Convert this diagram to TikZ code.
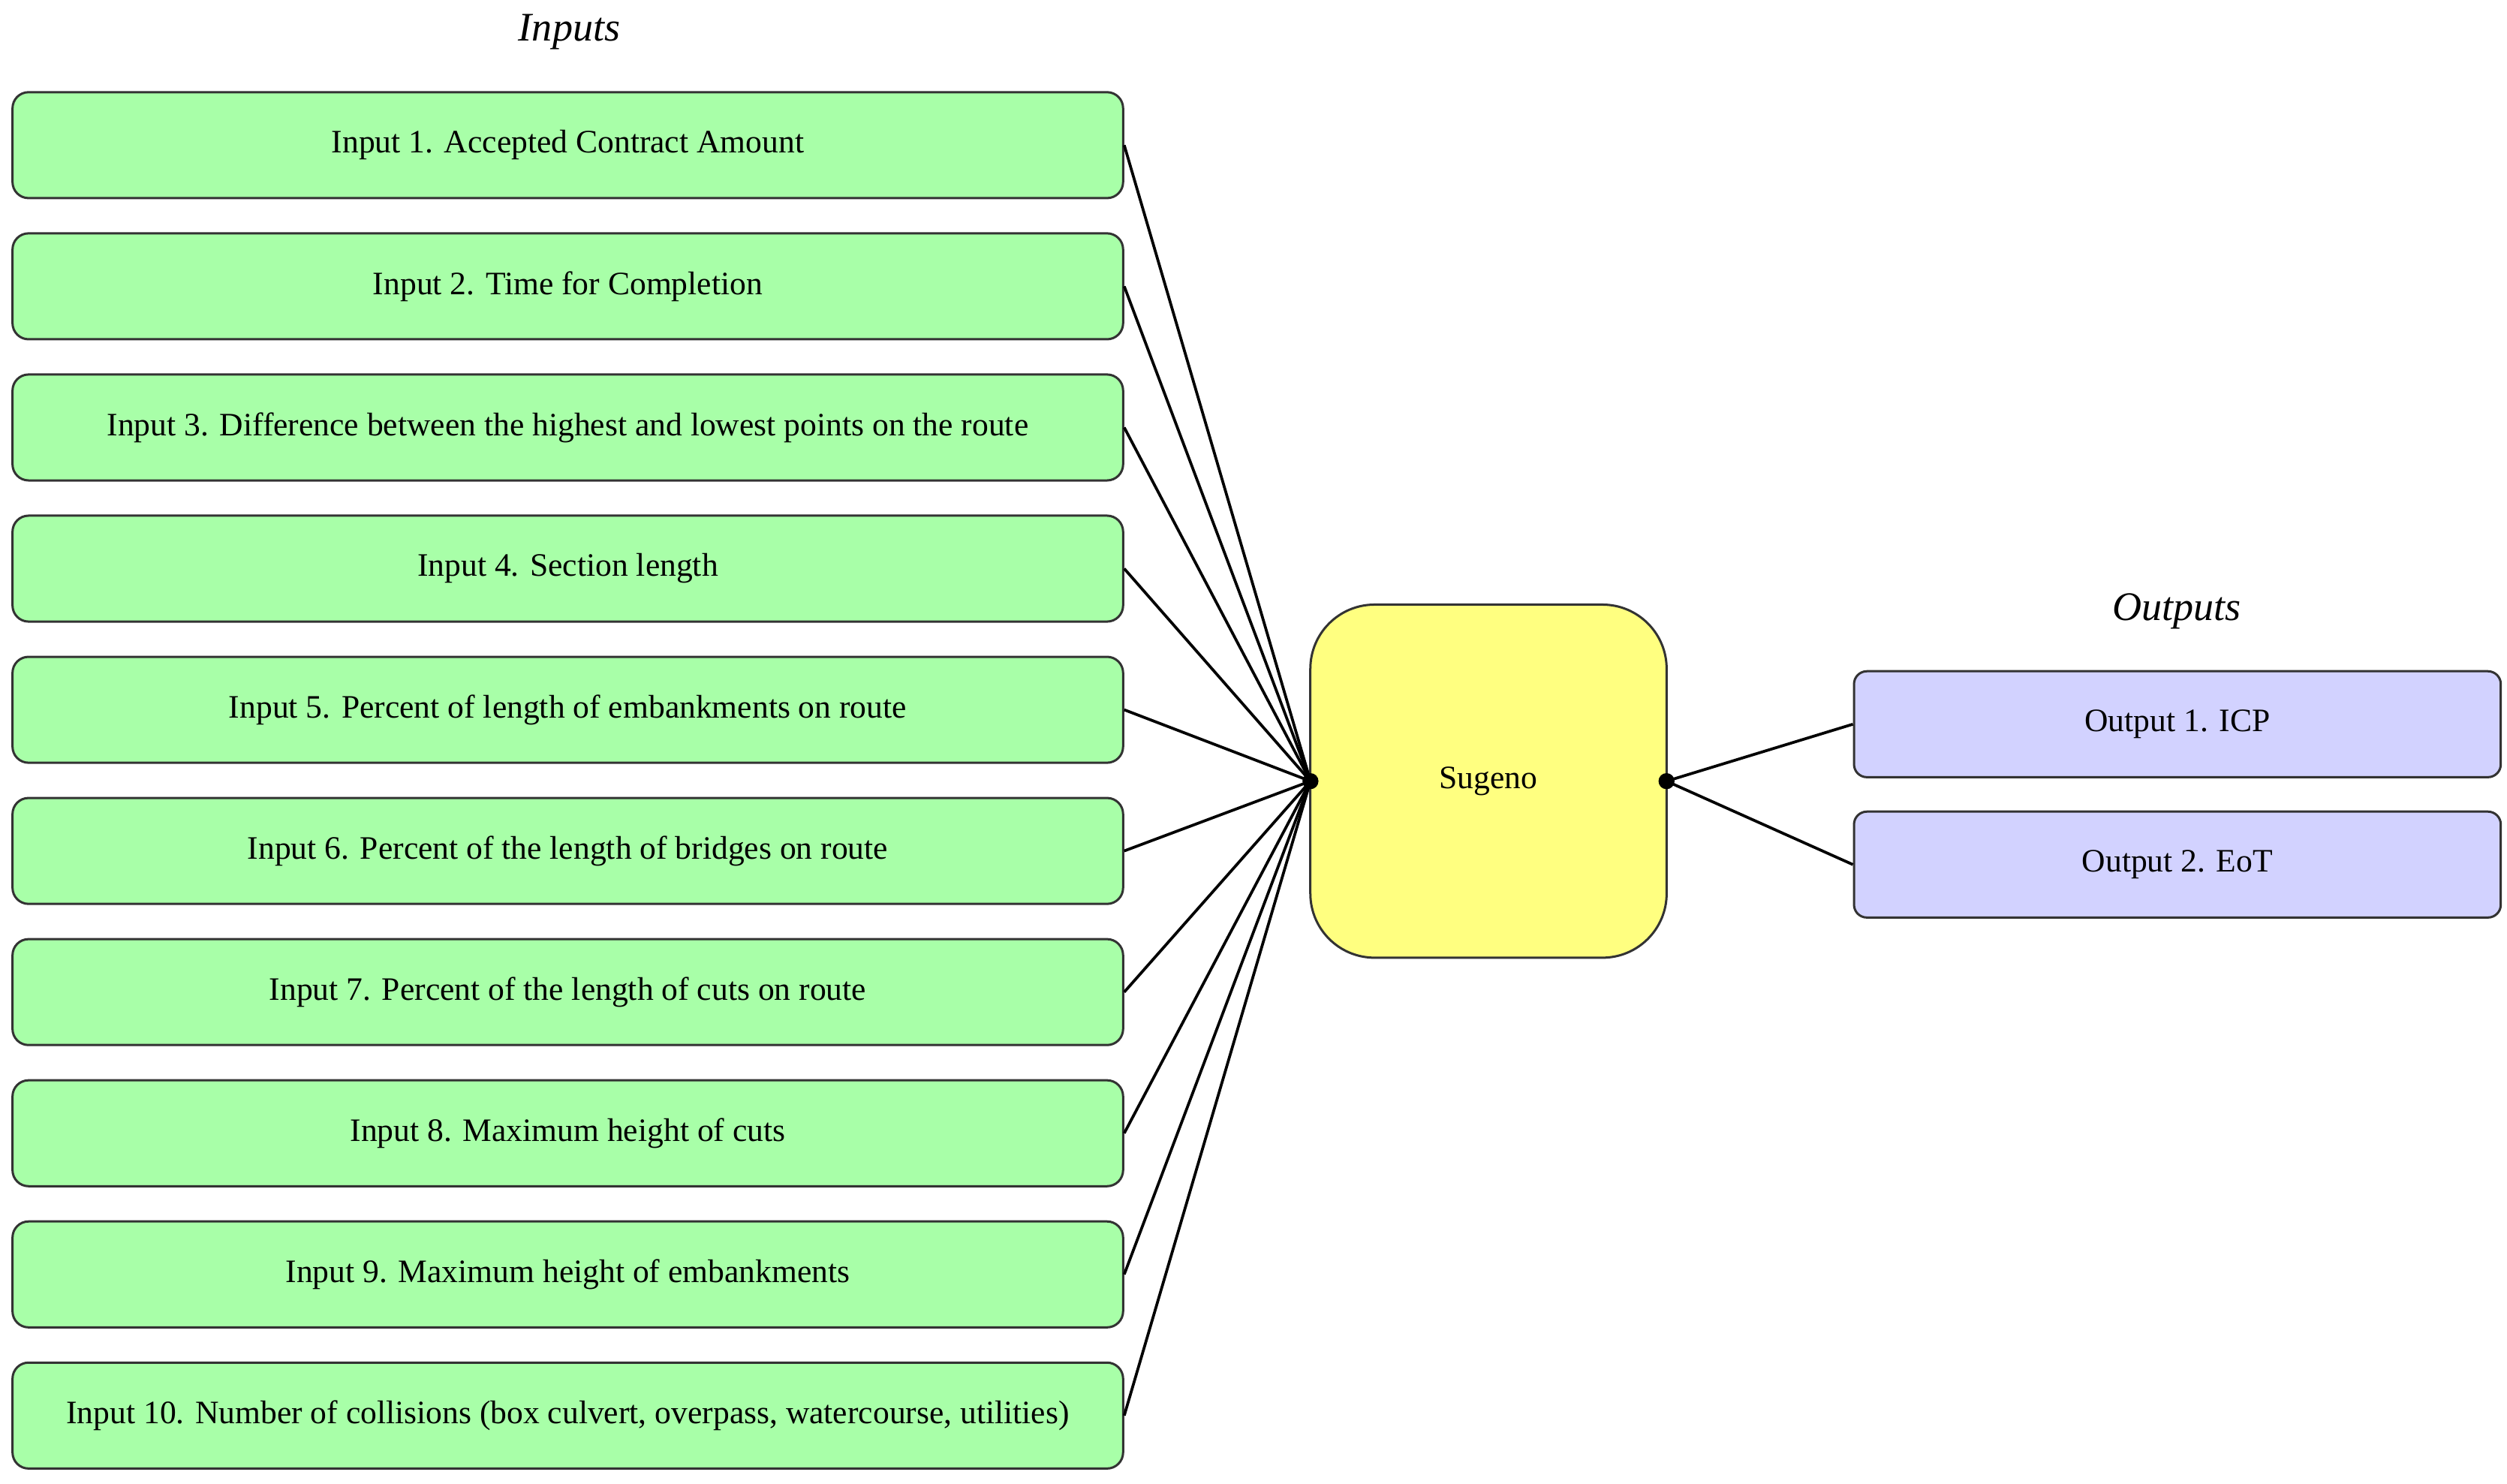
\documentclass[tikz,border=0pt]{standalone}
\usepackage{fontspec}
\setmainfont{Liberation Serif}
\begin{document}
\begin{tikzpicture}[x=0.01cm,y=-0.01cm,
  inbox/.style={draw=black!80,line width=0.4pt,fill=green!35!white!90!green,rounded corners=0.1cm,minimum width=6.92cm,minimum height=0.66cm,font=\fontsize{5.8}{7}\selectfont,inner sep=0pt},
  outbox/.style={draw=black!80,line width=0.4pt,fill={rgb,255:red,210;green,210;blue,255},rounded corners=0.08cm,minimum width=4.03cm,minimum height=0.66cm,font=\fontsize{5.8}{7}\selectfont,inner sep=0pt},
  conn/.style={line width=0.5pt},
  hdr/.style={font=\fontsize{7.2}{8}\selectfont\itshape}]
\useasboundingbox (0,0) rectangle (1563,925);
\definecolor{ingreen}{RGB}{168,255,168}
\node[hdr] (hin) at (355,20) {Inputs};
\node[hdr] (hout) at (1357,381) {Outputs};
\node[draw=black!80,fill={rgb,255:red,255;green,255;blue,128},rounded corners=0.4cm,minimum width=2.22cm,minimum height=2.2cm,font=\fontsize{5.8}{7}\selectfont] (s) at (928,487) {Sugeno};
\coordinate (L) at (817,487);
\coordinate (R) at (1039,487);
\foreach \i/\t in {1/{Input 1. Accepted Contract Amount},2/{Input 2. Time for Completion},3/{Input 3. Difference between the highest and lowest points on the route},4/{Input 4. Section length},5/{Input 5. Percent of length of embankments on route},6/{Input 6. Percent of the length of bridges on route},7/{Input 7. Percent of the length of cuts on route},8/{Input 8. Maximum height of cuts},9/{Input 9. Maximum height of embankments},10/{Input 10. Number of collisions (box culvert, overpass, watercourse, utilities)}}{
  \node[inbox,fill=ingreen] (in\i) at (354,{90.5+88*(\i-1)}) {\t};
  \draw[conn] (in\i.east) -- (L);
}
\node[outbox] (o1) at (1357.5,451.5) {Output 1. ICP};
\node[outbox] (o2) at (1357.5,539) {Output 2. EoT};
\draw[conn] (R) -- (o1.west);
\draw[conn] (R) -- (o2.west);
\fill (L) circle (0.05cm);
\fill (R) circle (0.05cm);
\end{tikzpicture}
\end{document}
